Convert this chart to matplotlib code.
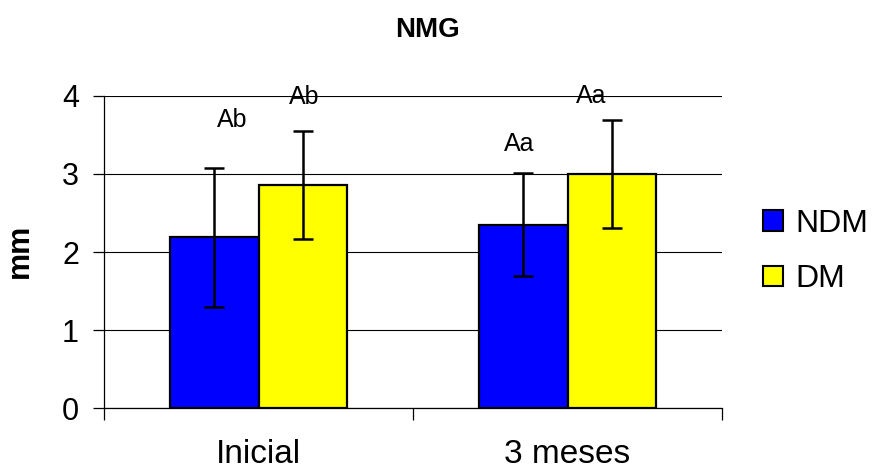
import matplotlib
matplotlib.use("Agg")
import matplotlib.pyplot as plt
from matplotlib.patches import Patch
import numpy as np

plt.rcParams['font.family'] = ['Liberation Sans', 'DejaVu Sans']

categories = ["Inicial", "3 meses"]
series_names = ["NDM", "DM"]
ndm_values = [2.19, 2.35]
dm_values = [2.86, 3.00]
ndm_err = [0.89, 0.66]
dm_err = [0.69, 0.69]
annot_labels = ["Ab", "Ab", "Aa", "Aa"]
annot_y = [3.69, 3.98, 3.38, 3.99]
yticks = [0, 1, 2, 3, 4]
title = "NMG"
ylabel = "mm"

colors = ["#0000FF", "#FFFF00"]

fig = plt.figure(figsize=(8.73, 4.69), dpi=100)
ax = fig.add_axes([104/873, 1-408.3/469, 618/873, (408.3-95.7)/469])

x = np.arange(len(categories))
w = 0.288
err_kw = dict(ecolor='black', elinewidth=1.8, capsize=7, capthick=1.8)
ax.bar(x - w/2, ndm_values, w, color=colors[0], edgecolor='black', linewidth=1.6,
       yerr=ndm_err, error_kw=err_kw, zorder=3)
ax.bar(x + w/2, dm_values, w, color=colors[1], edgecolor='black', linewidth=1.6,
       yerr=dm_err, error_kw=err_kw, zorder=3)

# annotation horizontal offsets (layout)
annot_x = [x[0] - 0.086, x[0] + 0.147, x[1] - 0.155, x[1] + 0.078]
for xx, yy, t in zip(annot_x, annot_y, annot_labels):
    ax.text(xx, yy, t, ha='center', va='center', fontsize=18, zorder=5)

ax.set_xlim(-0.5, len(categories) - 0.5)
ax.set_ylim(0, 4)
ax.set_yticks(yticks)
ax.set_yticklabels([str(v) for v in yticks])
ax.yaxis.grid(True, color='black', linewidth=0.8, zorder=0)
ax.set_axisbelow(True)

ax.set_xticks(np.arange(-0.5, len(categories), 1.0))
ax.set_xticklabels([])
ax.set_xticks(x, minor=True)
ax.set_xticklabels(categories, minor=True, fontsize=24)
ax.tick_params(axis='x', which='major', direction='out', length=8.5, width=0.9, color='black')
ax.tick_params(axis='x', which='minor', length=0, pad=22)
ax.tick_params(axis='y', direction='out', length=8, width=0.9, labelsize=22, pad=10)

for s in ['top', 'right']:
    ax.spines[s].set_visible(False)
ax.spines['left'].set_linewidth(0.9)
ax.spines['bottom'].set_linewidth(0.9)

ax.set_ylabel(ylabel, fontsize=22, fontweight='bold')
ax.yaxis.set_label_coords(-0.112, 0.503)

fig.text(427.5/873, 1-30/469, title, ha='center', va='center', fontsize=20, fontweight='bold')

handles = [Patch(facecolor=c, edgecolor='black', linewidth=1.5) for c in colors]
fig.legend(handles, series_names, loc='center left', bbox_to_anchor=(763/873, 1-251.5/469),
           frameon=False, fontsize=23, handlelength=0.62, handleheight=0.62,
           handletextpad=0.4, labelspacing=0.8, borderpad=0, borderaxespad=0)

fig.savefig("out.png", dpi=100)
